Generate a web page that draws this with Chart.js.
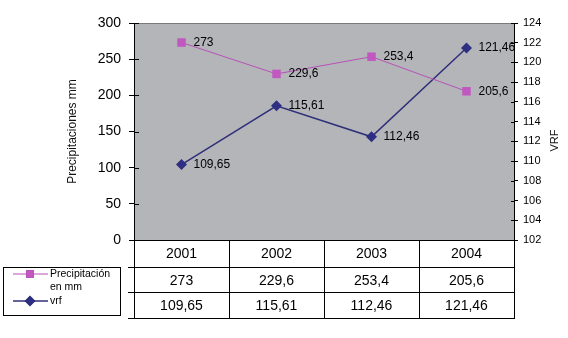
<!DOCTYPE html>
<html><head><meta charset="utf-8">
<script src="https://cdn.jsdelivr.net/npm/chart.js@4.4.1/dist/chart.umd.min.js"></script>
<style>html,body{margin:0;padding:0;background:#fff}canvas{display:block}</style>
</head><body>
<canvas id="c" width="568" height="338"></canvas>
<script>
// Annual rainfall (mm) and VRF per year
const years = ['2001', '2002', '2003', '2004'];
const precipitacion = [273, 229.6, 253.4, 205.6];
const vrf = [109.65, 115.61, 112.46, 121.46];
const seriesNames = ['Precipitación en mm', 'vrf'];
const leftTitle = 'Precipitaciones mm';
const rightTitle = 'VRF';

const FONT = '"Liberation Sans", Arial, sans-serif';
const PINK = '#c058c0';
const PINK_LINE = '#b850b8';
const NAVY = '#2e2e82';
const NAVY_LINE = '#30307a';
const PLOT_BG = '#b4b5b9';

const fmt = v => String(v).replace('.', ',');

// grey plot background and top frame
const plotBackground = {
  id: 'plotBackground',
  beforeDraw(chart) {
    const { ctx, chartArea: a } = chart;
    ctx.save();
    ctx.fillStyle = PLOT_BG;
    ctx.fillRect(a.left, a.top, a.right - a.left, a.bottom - a.top);
    ctx.strokeStyle = '#7a7a7e';
    ctx.lineWidth = 1;
    ctx.beginPath();
    ctx.moveTo(a.left, a.top + 0.5);
    ctx.lineTo(a.right, a.top + 0.5);
    ctx.stroke();
    ctx.restore();
  },
  afterDraw(chart) {
    // tick marks crossing into the plot
    const { ctx, chartArea: a, scales } = chart;
    ctx.save();
    ctx.strokeStyle = '#000';
    ctx.lineWidth = 1;
    ctx.beginPath();
    scales.y.ticks.forEach(t => {
      const y = Math.round(scales.y.getPixelForValue(t.value)) + 0.5;
      ctx.moveTo(a.left, y); ctx.lineTo(a.left + 5, y);
    });
    scales.y1.ticks.forEach(t => {
      const y = Math.round(scales.y1.getPixelForValue(t.value)) + 0.5;
      ctx.moveTo(a.right - 3, y); ctx.lineTo(a.right, y);
    });
    ctx.stroke();
    ctx.restore();
  }
};

// axis titles, both reading bottom to top
const axisTitles = {
  id: 'axisTitles',
  afterDraw(chart) {
    const { ctx, chartArea: a } = chart;
    const cy = (a.top + a.bottom) / 2;
    ctx.save();
    ctx.fillStyle = '#111';
    ctx.textAlign = 'center';
    ctx.textBaseline = 'middle';
    ctx.font = '12px ' + FONT;
    ctx.translate(73, cy);
    ctx.rotate(-Math.PI / 2);
    ctx.fillText(leftTitle, 0, 0);
    ctx.restore();
    ctx.save();
    ctx.fillStyle = '#111';
    ctx.textAlign = 'center';
    ctx.textBaseline = 'middle';
    ctx.font = '11px ' + FONT;
    ctx.translate(a.right + 41, cy + 9);
    ctx.rotate(-Math.PI / 2);
    ctx.fillText(rightTitle, 0, 0);
    ctx.restore();
  }
};

// value labels to the right of each point
const valueLabels = {
  id: 'valueLabels',
  afterDatasetsDraw(chart) {
    const { ctx } = chart;
    ctx.save();
    ctx.font = '12px ' + FONT;
    ctx.fillStyle = '#000';
    ctx.textAlign = 'left';
    ctx.textBaseline = 'middle';
    chart.data.datasets.forEach((ds, i) => {
      chart.getDatasetMeta(i).data.forEach((pt, j) => {
        ctx.fillText(fmt(ds.data[j]), pt.x + 12, pt.y);
      });
    });
    ctx.restore();
  }
};

// data table under the plot with its legend key
const dataTable = {
  id: 'dataTable',
  afterDraw(chart) {
    const { ctx, chartArea: a, scales } = chart;
    const x = scales.x;
    const rows = [a.bottom, a.bottom + 27, a.bottom + 52, a.bottom + 78];
    ctx.save();
    ctx.strokeStyle = '#000';
    ctx.lineWidth = 1;
    ctx.beginPath();
    ctx.moveTo(a.left, rows[0] + 0.5); ctx.lineTo(a.right, rows[0] + 0.5);
    for (let r = 1; r < rows.length; r++) {
      ctx.moveTo(a.left - 6, rows[r] + 0.5);
      ctx.lineTo(a.right, rows[r] + 0.5);
    }
    const bounds = [a.left];
    for (let i = 0; i < years.length - 1; i++) {
      bounds.push((x.getPixelForValue(i) + x.getPixelForValue(i + 1)) / 2);
    }
    bounds.push(a.right);
    bounds.forEach(b => {
      const bx = Math.round(b) + 0.5;
      ctx.moveTo(bx, rows[0]); ctx.lineTo(bx, rows[3] + 1);
    });
    ctx.stroke();

    ctx.font = '14px ' + FONT;
    ctx.fillStyle = '#000';
    ctx.textAlign = 'center';
    ctx.textBaseline = 'middle';
    const tableRows = [years, precipitacion.map(fmt), vrf.map(fmt)];
    tableRows.forEach((vals, r) => {
      vals.forEach((v, i) => {
        ctx.fillText(v, x.getPixelForValue(i), rows[r] + 14);
      });
    });

    // legend key box
    const lx = 3, ly = rows[1], lw = 117, lh = rows[3] - 3 - rows[1];
    ctx.fillStyle = '#fff';
    ctx.fillRect(lx, ly, lw, lh);
    ctx.strokeRect(lx + 0.5, ly + 0.5, lw, lh);

    ctx.font = '10.5px ' + FONT;
    ctx.textAlign = 'left';
    ctx.fillStyle = '#000';
    const keyY = [ly + 7, ly + 34];
    chart.data.datasets.forEach((ds, i) => {
      const y = keyY[i];
      ctx.strokeStyle = ds.borderColor;
      ctx.lineWidth = ds.borderWidth;
      ctx.beginPath();
      ctx.moveTo(13, y); ctx.lineTo(48, y);
      ctx.stroke();
      Chart.helpers.drawPoint(ctx, {
        pointStyle: ds.pointStyle, radius: i === 0 ? 5 : 4.5,
        borderWidth: 1, rotation: 0
      }, 30, y);
      ctx.fillStyle = ds.pointBackgroundColor;
      ctx.strokeStyle = ds.pointBorderColor;
      ctx.fill();
      // wrap the series name inside the key
      const words = seriesNames[i].split(' ');
      const lines = [];
      let cur = '';
      words.forEach(w => {
        const t = cur ? cur + ' ' + w : w;
        if (ctx.measureText(t).width > 64 && cur) { lines.push(cur); cur = w; } else cur = t;
      });
      lines.push(cur);
      ctx.fillStyle = '#000';
      lines.forEach((ln, k) => ctx.fillText(ln, 50, y + k * 13.5));
    });
    ctx.restore();
  }
};

new Chart(document.getElementById('c'), {
  type: 'line',
  data: {
    labels: years,
    datasets: [
      {
        label: seriesNames[0], data: precipitacion, yAxisID: 'y',
        borderColor: PINK_LINE, borderWidth: 1,
        pointStyle: 'rect', pointRadius: 6, pointHoverRadius: 6,
        pointBackgroundColor: PINK, pointBorderColor: PINK, pointBorderWidth: 0
      },
      {
        label: seriesNames[1], data: vrf, yAxisID: 'y1',
        borderColor: NAVY_LINE, borderWidth: 1.5,
        pointStyle: 'rectRot', pointRadius: 5.5, pointHoverRadius: 5.5,
        pointBackgroundColor: NAVY, pointBorderColor: NAVY, pointBorderWidth: 0
      }
    ]
  },
  options: {
    responsive: false,
    animation: false,
    devicePixelRatio: 1,
    layout: { padding: { top: 23, bottom: 98, left: 0, right: 0 } },
    plugins: { legend: { display: false }, tooltip: { enabled: false } },
    elements: { line: { tension: 0 } },
    scales: {
      x: { display: false, offset: true },
      y: {
        position: 'left', min: 0, max: 300,
        ticks: { stepSize: 50, padding: 8, color: '#000', font: { family: FONT, size: 14 } },
        grid: { drawOnChartArea: false, drawTicks: true, tickLength: 5, color: '#000' },
        border: { color: '#000', width: 1 },
        afterFit(s) { s.width = 134; }
      },
      y1: {
        position: 'right', min: 102, max: 124,
        ticks: { stepSize: 2, padding: 5, color: '#000', font: { family: FONT, size: 11 } },
        grid: { drawOnChartArea: false, drawTicks: true, tickLength: 4, color: '#000' },
        border: { color: '#000', width: 1 },
        afterFit(s) { s.width = 54; }
      }
    }
  },
  plugins: [plotBackground, valueLabels, axisTitles, dataTable]
});
</script>
</body></html>
